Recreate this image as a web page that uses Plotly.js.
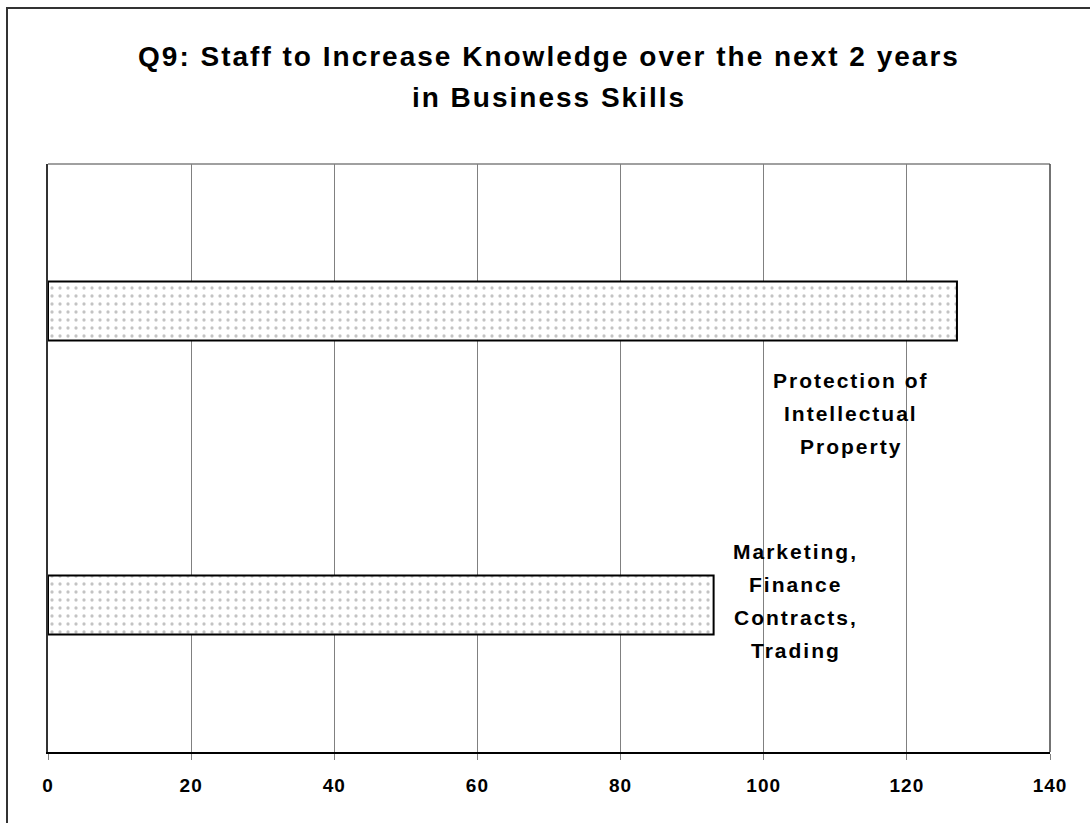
<!DOCTYPE html>
<html>
<head>
<meta charset="utf-8">
<script src="https://cdn.plot.ly/plotly-3.0.1.min.js"></script>
<style>
  html, body { margin: 0; padding: 0; background: #fff; overflow: hidden; }
  #chart { position: absolute; left: 0; top: 0; width: 1090px; height: 823px; }
  #frame { position: absolute; left: 6px; top: 7px; width: 1200px; height: 1000px;
           border: 2px solid #333; pointer-events: none; }
  .gtitle { letter-spacing: 2px; }
  .annotation-text { letter-spacing: 2px; }
  .xtick text { letter-spacing: 1px; }
</style>
</head>
<body>
<div id="chart"></div>
<div id="frame"></div>
<script>
// Skill areas, listed bottom to top, each label broken into its wrapped lines
const labelLines = [
  ["Marketing,", "Finance", "Contracts,", "Trading"],
  ["Protection of", "Intellectual", "Property"]
];
const categories = labelLines.map(lines => lines.join(" "));
const staffCounts = [93, 127];
const xTickValues = [0, 20, 40, 60, 80, 100, 120, 140];

// Where each wrapped label sits: x in axis units, first-line offset and line step in px
const labelAnchorX = [104.5, 112.2];
const labelFirstShift = [54, -69];
const labelLineStep = 33;

const FONT = "Liberation Sans, Arial, sans-serif";

const bars = {
  type: "bar",
  orientation: "h",
  x: staffCounts,
  y: categories,
  marker: {
    color: "#ffffff",
    line: { color: "#000000", width: 2 },
    pattern: { shape: ".", size: 8, solidity: 0.13, fgcolor: "#888888", bgcolor: "#ffffff", fillmode: "overlay" }
  },
  hoverinfo: "x+y"
};

const annotations = [];
labelLines.forEach((lines, i) => {
  lines.forEach((line, j) => {
    annotations.push({
      x: labelAnchorX[i],
      y: categories[i],
      xref: "x",
      yref: "y",
      text: line,
      showarrow: false,
      xanchor: "center",
      yanchor: "middle",
      yshift: labelFirstShift[i] - j * labelLineStep,
      font: { family: FONT, size: 21, color: "#000000", weight: 700 }
    });
  });
});

const layout = {
  width: 1090,
  height: 823,
  margin: { l: 48, r: 40, t: 164, b: 71 },
  paper_bgcolor: "#ffffff",
  plot_bgcolor: "#ffffff",
  showlegend: false,
  bargap: 0.8,
  title: {
    text: "Q9: Staff to Increase Knowledge over the next 2 years<br>in Business Skills",
    font: { family: FONT, size: 28, color: "#000000", weight: 700 },
    x: 0.5,
    xref: "paper",
    y: 1 - 66 / 823,
    yref: "container",
    yanchor: "top"
  },
  xaxis: {
    range: [0, 140],
    tickvals: xTickValues,
    ticktext: xTickValues.map(String),
    ticks: "outside",
    ticklen: 6,
    tickwidth: 1,
    tickcolor: "#808080",
    ticklabelstandoff: 10,
    tickfont: { family: FONT, size: 19, color: "#000000", weight: 700 },
    showgrid: true,
    gridcolor: "#808080",
    gridwidth: 1,
    zeroline: false,
    showline: true,
    linecolor: "#000000",
    linewidth: 1.5,
    fixedrange: true
  },
  yaxis: {
    type: "category",
    categoryorder: "array",
    categoryarray: categories,
    showticklabels: false,
    ticks: "",
    showgrid: false,
    zeroline: false,
    showline: true,
    linecolor: "#333333",
    linewidth: 2,
    fixedrange: true
  },
  shapes: [
    {
      type: "line", xref: "paper", yref: "paper",
      x0: 0, x1: 1, y0: 1, y1: 1,
      line: { color: "#808080", width: 1.5 }, layer: "below"
    },
    {
      type: "line", xref: "paper", yref: "paper",
      x0: 1, x1: 1, y0: 0, y1: 1,
      line: { color: "#444444", width: 1.5 }, layer: "below"
    }
  ],
  annotations: annotations
};

Plotly.newPlot("chart", [bars], layout, { displayModeBar: false, staticPlot: true }).then(gd => {
  // open up the gap between the two title lines a little
  const lines = gd.querySelectorAll(".gtitle tspan.line");
  lines.forEach((t, k) => { if (k > 0) t.setAttribute("dy", "1.46em"); });
});
</script>
</body>
</html>
